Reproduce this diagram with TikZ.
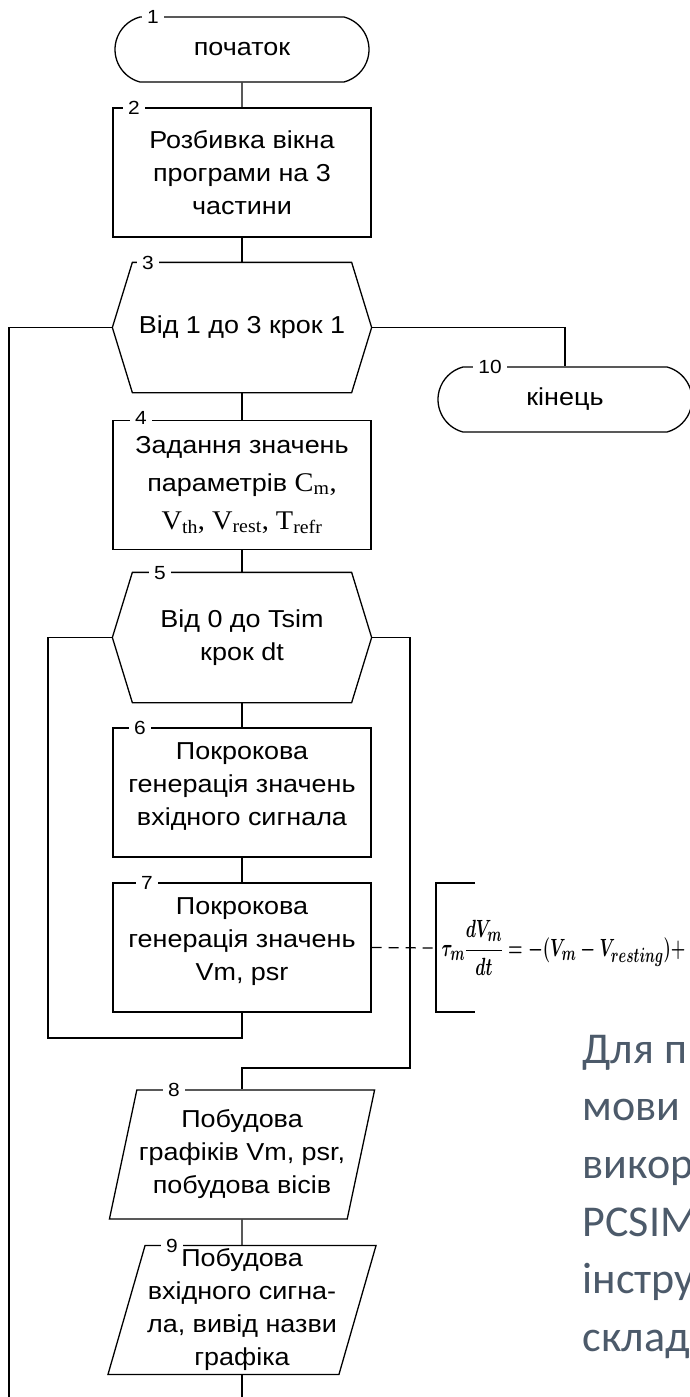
\documentclass[tikz,border=0pt]{standalone}
\usepackage{amsmath}
\usepackage{fontspec}
\setmainfont{Liberation Sans}[FakeStretch=1.1]
\newfontfamily\tnrfont{Liberation Serif}[FakeStretch=1.05]
\newfontfamily\slidefont{Carlito}
\usetikzlibrary{shapes.misc, shapes.geometric, calc}
\definecolor{slidegray}{RGB}{76,90,106}

% hexagon frame of a loop block
\newcommand{\hexframe}[1]{%
  \draw ([xshift=20pt]#1.north west) -- ([xshift=-20pt]#1.north east) -- (#1.east)
    -- ([xshift=-20pt]#1.south east) -- ([xshift=20pt]#1.south west) -- (#1.west) -- cycle;}

\begin{document}
\begin{tikzpicture}[x=1pt, y=-1pt, line width=1.3pt,
    blk/.style={draw, minimum width=258pt, minimum height=129pt, align=center,
      inner sep=2pt, font=\fontsize{24.5}{33}\selectfont},
    term/.style={blk, rounded rectangle, rounded rectangle arc length=150,
      minimum height=65pt},
    loophex/.style={blk, draw=none},
    iobox/.style={blk, trapezium, trapezium left angle=73.6,
      trapezium right angle=106.4, trapezium stretches=true},
    num/.style={fill=white, inner xsep=5pt, inner ysep=0pt,
      font=\fontsize{19}{19}\selectfont},
    slidetxt/.style={anchor=base west, inner sep=0pt, text=slidegray,
      font=\fontsize{44}{44}\slidefont}]
      \clip (0,0) rectangle (690,1397);

      % Nodes
      \node[term] (start) at (242,49.5) {початок};
      \node[blk] (split) at (242,172.5) {Розбивка вікна\\програми на 3\\частини};
      \node[loophex] (loopwin) at (242,327.5) {Від 1 до 3 крок 1};
      \node[term] (stop) at (565,399.5) {кінець};
      \node[blk] (params) at (242,485) {Задання значень\\[5pt]
        параметрів {\tnrfont\fontsize{27}{33}\selectfont C\textsubscript{m},}\\[5pt]
        {\tnrfont\fontsize{27}{33}\selectfont V\textsubscript{th}, V\textsubscript{rest}, T\textsubscript{refr}}};
      \node[loophex] (looptime) at (242,637.5) {Від 0 до Tsim\\крок dt};
      \node[blk] (gensig) at (242,792.5) {Покрокова\\генерація значень\\вхідного сигнала\\[-17pt]};
      \node[blk] (genvm) at (242,947.5) {Покрокова\\генерація значень\\Vm, psr\\[-17pt]};
      \node[iobox] (plotvm) at (242,1154.5) {Побудова\\графіків Vm, psr,\\побудова вісів};
      \node[iobox] (plotsig) at (242,1310) {Побудова\\вхідного сигна-\\ла, вивід назви\\графіка};
      \hexframe{loopwin}
      \hexframe{looptime}

      % Block numbers
      \node[num] (n1) at (153,17) {1};
      \node[num] (n2) at (134,108) {2};
      \node[num] (n3) at (148,263) {3};
      \node[num] (n10) at (490,367) {10};
      \node[num] (n4) at (141,418) {4};
      \node[num] (n5) at (160,573) {5};
      \node[num] (n6) at (140,728) {6};
      \node[num] (n7) at (147,883) {7};
      \node[num] (n8) at (174,1090) {8};
      \node[num] (n9) at (172,1246) {9};

      % Loop corners and free ends
      \coordinate (outleft) at (9,1400);
      \coordinate (innerleft) at (48,1038);
      \coordinate (innerright) at (410,1068);
      \coordinate (outdown) at (242,1400);
      \coordinate (eqbrace) at (436,948);
      \coordinate (brtop) at (475,883);
      \coordinate (brbot) at (475,1012);

      % Edges
      \draw (start) -- (split);
      \draw (split) -- (loopwin);
      \draw (loopwin) -- (params);
      \draw (params) -- (looptime);
      \draw (looptime) -- (gensig);
      \draw (gensig) -- (genvm);
      \draw (plotvm) -- (plotsig);
      \draw (plotsig) -- (outdown);
      \draw (loopwin.east) -| (stop.north);
      \draw (loopwin.west) -| (outleft);
      \draw (looptime.west) -| (innerleft) -| (genvm.south);
      \draw (looptime.east) -| (innerright) -| (plotvm.north);

      % Comment
      \draw[dash pattern=on 10pt off 7pt] (genvm.east) -- (eqbrace);
      \draw (brtop) -| (eqbrace) |- (brbot);
      \node[anchor=west, inner sep=0pt, font=\fontsize{31}{36}\selectfont] (eq) at (441,948)
        {\scalebox{0.67}[1]{\boldmath$\tau_m \dfrac{dV_m}{dt} = -(V_m - V_{resting}) +$}};

      % Slide text
      \node[slidetxt] (s1) at (582,1063) {Для п};
      \node[slidetxt] (s2) at (582,1120.5) {мови};
      \node[slidetxt] (s3) at (582,1178) {викор};
      \node[slidetxt] (s4) at (582,1236) {PCSIM};
      \node[slidetxt] (s5) at (582,1293) {інстру};
      \node[slidetxt] (s6) at (582,1351) {склад};
    \end{tikzpicture}
\end{document}
